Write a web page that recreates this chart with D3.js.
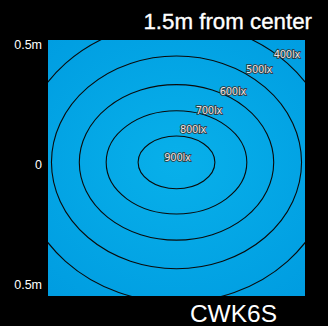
<!DOCTYPE html>
<html><head><meta charset="utf-8">
<script src="https://cdn.jsdelivr.net/npm/d3@7"></script>
<style>html,body{margin:0;padding:0;background:#000;}svg{display:block;}</style>
</head><body>
<script>
// ---- data (metres / lux) ----
const levels   = [900, 800, 700, 600, 500];
const radiusX  = [0.160, 0.293, 0.405, 0.521, 0.654];
const radiusY  = [0.110, 0.215, 0.324, 0.443, 0.583];
const centreX  = 0.0;
const centreY  = 0.011;
const labelText = ["900lx", "800lx", "700lx", "600lx", "500lx", "400lx"];
const labelX    = [0.004, 0.069, 0.135, 0.235, 0.344, 0.460];
const labelY    = [0.031, 0.150, 0.227, 0.308, 0.400, 0.460];
const yTicks      = [0.5, 0, -0.5];
const yTickLabels = ["0.5m", "0", "0.5m"];
const title    = "1.5m from center";
const model    = "CWK6S";

const W = 328, H = 326;
const plot = {left: 48, right: 305, top: 40, bottom: 296};

const x = d3.scaleLinear().domain([-0.5, 0.5]).range([56.5, 296.5]);
const y = d3.scaleLinear().domain([0.5, -0.5]).range([45, 285]);

const svg = d3.select("body").append("svg").attr("width", W).attr("height", H);
svg.append("rect").attr("width", W).attr("height", H).attr("fill", "#000");

const defs = svg.append("defs");
const grad = defs.append("radialGradient").attr("id", "bg")
  .attr("gradientUnits", "userSpaceOnUse")
  .attr("cx", x(centreX)).attr("cy", y(centreY)).attr("r", 190)
  .attr("gradientTransform", `translate(${x(centreX)},${y(centreY)}) scale(1,0.9) translate(${-x(centreX)},${-y(centreY)})`);
grad.append("stop").attr("offset", "0").attr("stop-color", "#08b0ea");
grad.append("stop").attr("offset", "1").attr("stop-color", "#009de1");

defs.append("clipPath").attr("id", "clip").append("rect")
  .attr("x", plot.left).attr("y", plot.top)
  .attr("width", plot.right - plot.left).attr("height", plot.bottom - plot.top);

svg.append("rect")
  .attr("x", plot.left).attr("y", plot.top)
  .attr("width", plot.right - plot.left).attr("height", plot.bottom - plot.top)
  .attr("fill", "url(#bg)");

const g = svg.append("g").attr("clip-path", "url(#clip)");
g.selectAll("ellipse").data(levels).join("ellipse")
  .attr("cx", x(centreX)).attr("cy", y(centreY))
  .attr("rx", (d, i) => x(radiusX[i]) - x(0))
  .attr("ry", (d, i) => y(0) - y(radiusY[i]))
  .attr("fill", "none").attr("stroke", "#0a0a0a").attr("stroke-width", 1.1);

g.selectAll("text.lab").data(labelText).join("text").attr("class", "lab")
  .attr("x", (d, i) => x(labelX[i])).attr("y", (d, i) => y(labelY[i]))
  .attr("text-anchor", "middle").attr("dominant-baseline", "central")
  .attr("font-family", "DejaVu Sans, sans-serif").attr("font-size", 10)
  .attr("fill", "#e6e6e6").attr("stroke", "#333").attr("stroke-width", 1.6)
  .attr("paint-order", "stroke").attr("letter-spacing", -0.3)
  .text(d => d);

svg.selectAll("text.yt").data(yTicks).join("text").attr("class", "yt")
  .attr("x", 42).attr("y", d => y(d))
  .attr("text-anchor", "end").attr("dominant-baseline", "central")
  .attr("font-family", "Liberation Sans, Arial, sans-serif").attr("font-size", 12.5)
  .attr("fill", "#fff")
  .text((d, i) => yTickLabels[i]);

svg.append("text").attr("x", 312).attr("y", 29)
  .attr("text-anchor", "end")
  .attr("font-family", "Liberation Sans, Arial, sans-serif").attr("font-size", 22.3)
  .attr("fill", "#fff").attr("stroke", "#fff").attr("stroke-width", 0.35)
  .text(title);

svg.append("text").attr("x", 233.5).attr("y", 321.5)
  .attr("text-anchor", "middle")
  .attr("font-family", "Liberation Sans, Arial, sans-serif").attr("font-size", 24.5)
  .attr("fill", "#fff").text(model);
</script>
</body></html>
